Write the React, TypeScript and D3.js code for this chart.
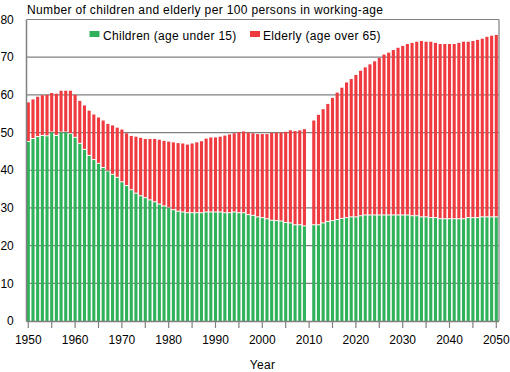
import React from 'react';
import * as d3 from 'd3';

const years: number[] = d3.range(1950, 2051);

const children: (number | null)[] = [
  47.5, 48.3, 48.8, 49.1, 49.0, 50.0, 49.1, 50.0, 50.0, 49.6,
  48.6, 47.0, 45.4, 43.8, 42.7, 41.7, 40.6, 39.7, 38.8, 38.0,
  36.8, 35.8, 34.7, 33.8, 33.1, 32.6, 32.0, 31.5, 30.9, 30.4,
  30.0, 29.4, 29.0, 28.8, 28.6, 28.6, 28.6, 28.6, 28.8, 28.8,
  28.8, 28.8, 28.6, 28.6, 28.8, 28.6, 28.6, 28.1, 27.9, 27.5,
  27.3, 27.0, 26.6, 26.5, 26.4, 26.0, 25.9, 25.4, 25.4, 25.1,
  null,
  25.4, 25.4, 25.9, 26.3, 26.5, 26.8, 27.1, 27.3, 27.5, 27.5,
  27.8, 28.0, 28.0, 28.0, 28.0, 28.0, 28.0, 28.0, 28.0, 28.0,
  28.0, 27.8, 27.8, 27.5, 27.5, 27.3, 27.3, 27.0, 27.0, 27.0,
  27.0, 27.0, 27.0, 27.3, 27.3, 27.3, 27.5, 27.5, 27.5, 27.5,
];

const elderly: (number | null)[] = [
  10.5, 10.5, 10.7, 10.8, 11.0, 10.5, 11.2, 11.1, 11.1, 11.5,
  11.4, 11.4, 11.8, 12.0, 12.1, 12.3, 12.6, 12.6, 13.1, 13.3,
  14.0, 14.0, 14.4, 15.1, 15.5, 15.7, 16.3, 16.8, 17.2, 17.4,
  17.6, 18.0, 18.2, 18.3, 18.2, 18.5, 18.8, 19.1, 19.6, 19.9,
  19.9, 20.1, 20.6, 20.9, 21.0, 21.5, 21.7, 21.9, 21.9, 22.1,
  22.3, 22.6, 23.3, 23.5, 23.6, 24.2, 24.7, 25.0, 25.2, 25.8,
  null,
  27.8, 29.3, 30.3, 31.3, 32.7, 33.8, 34.8, 36.0, 36.7, 37.8,
  38.6, 39.3, 40.1, 40.9, 41.8, 42.7, 43.2, 43.9, 44.5, 45.0,
  45.5, 46.0, 46.3, 46.8, 46.6, 46.8, 46.5, 46.5, 46.5, 46.5,
  46.5, 46.8, 47.1, 46.8, 47.0, 47.3, 47.4, 47.9, 48.2, 48.4,
];

const xTickMarks: number[] = d3.range(1950, 2051, 5);
const xTickLabels: number[] = [1950, 1960, 1970, 1980, 1990, 2000, 2010, 2020, 2030, 2040, 2050];
const yTicks: number[] = [0, 10, 20, 30, 40, 50, 60, 70, 80];

const title = 'Number of children and elderly per 100 persons in working-age';
const seriesNames = ['Children (age under 15)', 'Elderly (age over 65)'];
const xTitle = 'Year';

const GREEN = '#30b25a';
const RED = '#ef3b40';
const GRID = '#808080';
const FONT = '"Liberation Sans", Arial, sans-serif';

export default function App() {
  const left = 26.5;
  const right = 499;
  const top = 19.5;
  const bottom = 321;
  const x = d3.scaleLinear().domain([1950, 2050]).range([28.3, 496.3]);
  const y = d3.scaleLinear().domain([0, 80]).range([bottom, top]);
  const bw = 3.1;

  return (
    <svg
      width={510}
      height={372}
      style={{ position: 'absolute', left: 0, top: 0, background: '#fff' }}
      fontFamily={FONT}
    >
      <rect x={0} y={0} width={510} height={372} fill="#fff" />
      <text x={27} y={13.5} fontSize={12} letterSpacing={0.35} fill="#000">{title}</text>

      {yTicks.filter((t) => t > 0 && t < 80).map((t) => (
        <line key={'g' + t} x1={left} x2={right} y1={y(t)} y2={y(t)} stroke={GRID} strokeWidth={1.2} />
      ))}

      {years.map((yr, i) => {
        const c = children[i];
        const e = elderly[i];
        if (c == null || e == null) return null;
        const cx = x(yr);
        return (
          <g key={yr}>
            <rect x={cx - bw / 2} y={y(c)} width={bw} height={y(0) - y(c)} fill={GREEN} />
            <rect x={cx - bw / 2} y={y(c + e)} width={bw} height={Math.max(0, y(c) - y(c + e) - 1)} fill={RED} />
          </g>
        );
      })}

      <line x1={left} x2={right} y1={top} y2={top} stroke={GRID} strokeWidth={1.2} />
      <line x1={right} x2={right} y1={top} y2={bottom} stroke={GRID} strokeWidth={1.2} />
      <line x1={left} x2={left} y1={top} y2={bottom + 0.5} stroke={GRID} strokeWidth={1.5} />
      <line x1={left} x2={right} y1={bottom + 0.5} y2={bottom + 0.5} stroke={GRID} strokeWidth={1.5} />

      {xTickMarks.map((t) => (
        <line key={'t' + t} x1={x(t)} x2={x(t)} y1={bottom + 1} y2={bottom + 7} stroke={GRID} strokeWidth={1.2} />
      ))}
      {xTickLabels.map((t) => (
        <text key={'xl' + t} x={x(t)} y={343.5} fontSize={12} textAnchor="middle" fill="#000">{t}</text>
      ))}
      {yTicks.map((t) => (
        <text key={'yl' + t} x={13.8} y={y(t)} dy="0.35em" fontSize={12} textAnchor="end" fill="#000">{t}</text>
      ))}

      <rect x={89.5} y={31} width={10} height={6} fill={GREEN} />
      <text x={103} y={40} fontSize={12} letterSpacing={0.3} fill="#000">{seriesNames[0]}</text>
      <rect x={250} y={31} width={10} height={6} fill={RED} />
      <text x={263} y={40} fontSize={12} letterSpacing={0.3} fill="#000">{seriesNames[1]}</text>

      <text x={262.5} y={369} fontSize={12} letterSpacing={0.3} textAnchor="middle" fill="#000">{xTitle}</text>
    </svg>
  );
}
